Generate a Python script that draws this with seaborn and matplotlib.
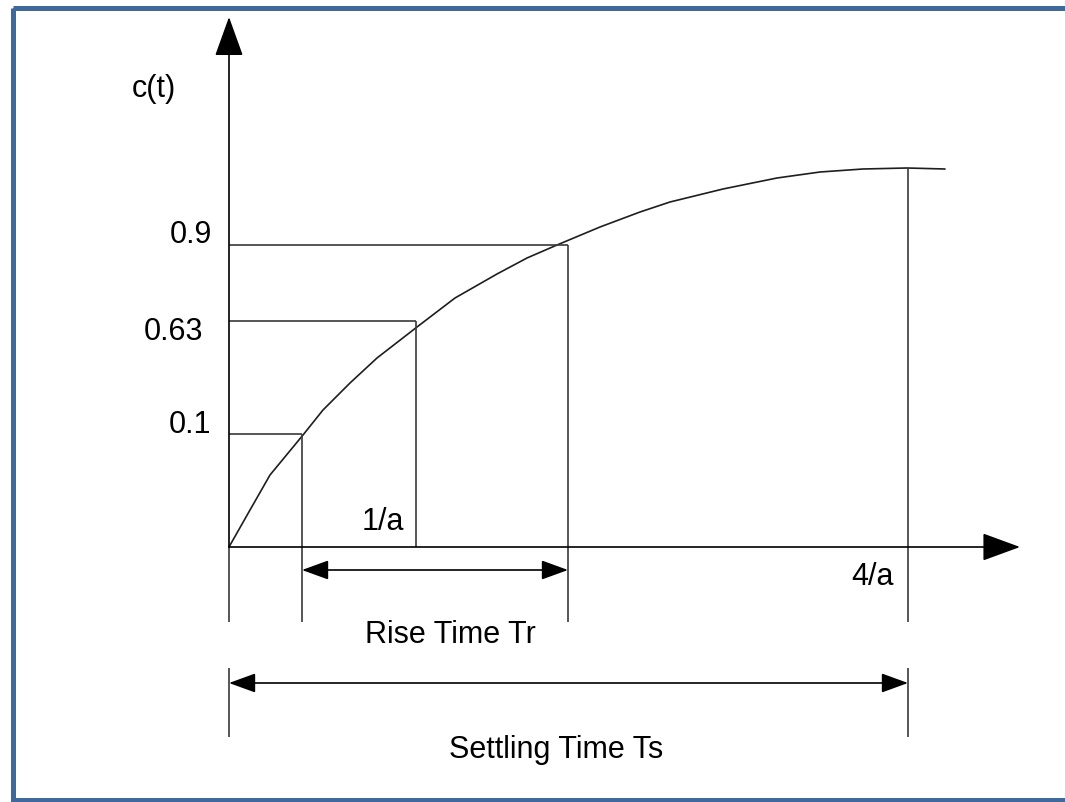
import numpy as np
import seaborn as sns
import matplotlib.pyplot as plt
from matplotlib.patches import Rectangle

# diagram coordinates (x to the right, y downward)
curve_x = [229, 250, 270, 303, 323, 350, 377, 417, 455, 497, 527, 557, 600, 640, 670, 723, 777, 820, 863, 907, 945]
curve_y = [547, 510, 475, 435, 410, 383, 358, 327, 298, 274, 258, 245, 227, 212, 202, 189, 178, 172, 169, 168, 169]

origin = (229, 547)
x_axis_end = 1020
y_axis_end = 17

level_names = ["0.1", "0.63", "0.9"]
level_y = [434, 321, 245]
level_x = [302, 416, 568]

settle_x = 908
settle_y = 168

rise_arrow_y = 570
settle_arrow_y = 683

sns.set_theme(style="white")
plt.rcParams["font.family"] = ["Liberation Sans", "DejaVu Sans"]
plt.rcParams["text.color"] = "black"

fig = plt.figure(figsize=(10.65, 8.02), dpi=100)
ax = fig.add_axes([0, 0, 1, 1])
ax.set_xlim(0, 1065)
ax.set_ylim(802, 0)
ax.axis("off")

line_kw = dict(color="#3a3a3a", lw=1.2, solid_capstyle="butt")

# response curve
sns.lineplot(x=curve_x, y=curve_y, sort=False, estimator=None, color="#1e1e1e", lw=1.2, ax=ax)

# axes with filled arrow heads
ax.annotate("", xy=(x_axis_end, origin[1]), xytext=origin,
            arrowprops=dict(arrowstyle="-|>,head_length=24,head_width=8.8", mutation_scale=1,
                            color="black", lw=1.2, shrinkA=0, shrinkB=0))
ax.annotate("", xy=(origin[0], y_axis_end), xytext=origin,
            arrowprops=dict(arrowstyle="-|>,head_length=25,head_width=9", mutation_scale=1,
                            color="black", lw=1.2, shrinkA=0, shrinkB=0))

# level guides
for lx, ly in zip(level_x, level_y):
    ax.plot([origin[0], lx], [ly, ly], **line_kw)
ax.plot([level_x[0], level_x[0]], [level_y[0], 622], **line_kw)
ax.plot([level_x[1], level_x[1]], [level_y[1], origin[1]], **line_kw)
ax.plot([level_x[2], level_x[2]], [level_y[2], 622], **line_kw)
ax.plot([settle_x, settle_x], [settle_y, 622], **line_kw)

# extension lines below the axis
ax.plot([origin[0], origin[0]], [origin[1], 622], **line_kw)
ax.plot([origin[0], origin[0]], [668, 737], **line_kw)
ax.plot([settle_x, settle_x], [668, 737], **line_kw)

# dimension arrows
dim_style = dict(arrowstyle="<|-|>,head_length=16.5,head_width=6", mutation_scale=1,
                 color="black", lw=1.2, shrinkA=0, shrinkB=0)
ax.annotate("", xy=(level_x[2], rise_arrow_y), xytext=(level_x[0], rise_arrow_y), arrowprops=dim_style)
ax.annotate("", xy=(settle_x, settle_arrow_y), xytext=(origin[0], settle_arrow_y), arrowprops=dim_style)

# labels
fs = 22
ax.text(154, 97, "c(t)", fontsize=fs, ha="center", va="baseline")
ax.text(212, 243, "0.9", fontsize=fs, ha="right", va="baseline")
ax.text(203, 340, "0.63", fontsize=fs, ha="right", va="baseline")
ax.text(211, 433, "0.1", fontsize=fs, ha="right", va="baseline")
ax.text(383, 530, "1/a", fontsize=fs, ha="center", va="baseline")
ax.text(873, 585, "4/a", fontsize=fs, ha="center", va="baseline")
ax.text(450, 643, "Rise Time Tr", fontsize=fs, ha="center", va="baseline")
ax.text(556, 758, "Settling Time Ts", fontsize=fs, ha="center", va="baseline")

# blue frame
ax.add_patch(Rectangle((12.5, 7.5), 1070, 792, fill=False, edgecolor="#41689b", lw=3.6))

fig.savefig("out.png", dpi=100)
